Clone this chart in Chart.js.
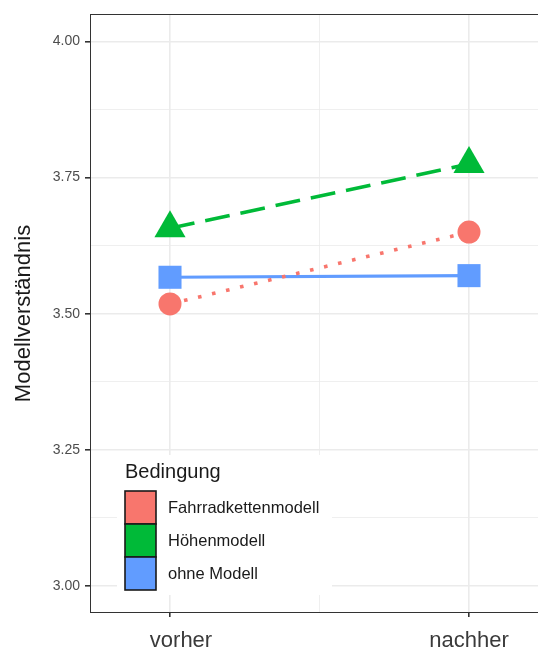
<!DOCTYPE html>
<html lang="de">
<head>
<meta charset="utf-8">
<title>Modellverständnis</title>
<script src="https://cdn.jsdelivr.net/npm/chart.js@4/dist/chart.umd.min.js"></script>
<style>
  html, body { margin: 0; padding: 0; background: #fff; overflow: hidden; }
  canvas { display: block; }
</style>
</head>
<body>
<canvas id="grafico" width="550" height="650"></canvas>
<script>
// Dados
const zeitpunkte = ['vorher', 'nachher'];
const bedingungen = ['Fahrradkettenmodell', 'Höhenmodell', 'ohne Modell'];
const fahrradWerte = [3.518, 3.650];
const hoehenWerte = [3.657, 3.775];
const ohneWerte = [3.567, 3.570];
const yTicks = [3.00, 3.25, 3.50, 3.75, 4.00];

// Cores no estilo ggplot
const cores = ['#F8766D', '#00BA38', '#619CFF'];
const fonte = "'Liberation Sans', Arial, Helvetica, sans-serif";

// Pontos x = 1, 2 para as categorias
function pontos(valores) {
    return valores.map((v, i) => ({ x: i + 1, y: v }));
}

// Ticks com linhas menores no meio
const yGrade = [];
for (let i = 0; i < yTicks.length; i++) {
    yGrade.push(yTicks[i]);
    if (i < yTicks.length - 1) yGrade.push((yTicks[i] + yTicks[i + 1]) / 2);
}
const ehMaior = v => yTicks.some(t => Math.abs(t - v) < 1e-6);

// Zerar o padding automático das escalas
function semPadding(scale) {
    scale.paddingLeft = 0;
    scale.paddingRight = 0;
    scale.paddingTop = 0;
    scale.paddingBottom = 0;
}

// Plugin para borda do painel e legenda interna
const painelLegenda = {
    id: 'painelLegenda',
    afterDraw(chart) {
        const ctx = chart.ctx;
        const a = chart.chartArea;
        ctx.save();
        // borda do painel
        ctx.strokeStyle = '#333333';
        ctx.lineWidth = 1;
        ctx.strokeRect(a.left + 0.5, a.top + 0.5, a.right - a.left, a.bottom - a.top - 1);

        // legenda
        const lx = a.left + 27, ly = a.bottom - 158;
        ctx.fillStyle = '#ffffff';
        ctx.fillRect(lx, ly, 215, 140);
        ctx.fillStyle = '#1a1a1a';
        ctx.textBaseline = 'middle';
        ctx.textAlign = 'left';
        ctx.font = '20px ' + fonte;
        ctx.fillText('Bedingung', lx + 8, ly + 17);
        ctx.font = '16.5px ' + fonte;
        chart.data.datasets.forEach((ds, i) => {
            const ky = ly + 36 + i * 33;
            ctx.fillStyle = ds.backgroundColor;
            ctx.fillRect(lx + 8, ky, 31, 33);
            ctx.strokeStyle = '#1a1a1a';
            ctx.lineWidth = 1.6;
            ctx.strokeRect(lx + 8, ky, 31, 33);
            ctx.fillStyle = '#1a1a1a';
            ctx.fillText(ds.label, lx + 51, ky + 17);
        });
        ctx.restore();
    }
};

new Chart(document.getElementById('grafico').getContext('2d'), {
    type: 'line',
    data: {
        datasets: [
            {
                label: bedingungen[0],
                data: pontos(fahrradWerte),
                borderColor: cores[0],
                backgroundColor: cores[0],
                borderWidth: 3.6,
                borderDash: [3.6, 10.8],
                pointStyle: 'circle',
                pointRadius: 11.5,
                pointBorderWidth: 0
            },
            {
                label: bedingungen[1],
                data: pontos(hoehenWerte),
                borderColor: cores[1],
                backgroundColor: cores[1],
                borderWidth: 3.6,
                borderDash: [25, 11],
                pointStyle: 'triangle',
                pointRadius: 18,
                pointBorderWidth: 0
            },
            {
                label: bedingungen[2],
                data: pontos(ohneWerte),
                borderColor: cores[2],
                backgroundColor: cores[2],
                borderWidth: 3.2,
                pointStyle: 'rect',
                pointRadius: 16.3,
                pointBorderWidth: 0
            }
        ]
    },
    options: {
        responsive: false,
        animation: false,
        devicePixelRatio: 1,
        layout: { autoPadding: false, padding: { top: 14, right: 1, left: 0, bottom: 0 } },
        plugins: {
            legend: { display: false },
            tooltip: { enabled: false }
        },
        scales: {
            x: {
                type: 'linear',
                min: 1 - 80 / 299,
                max: 2 + 80 / 299,
                afterBuildTicks: scale => {
                    scale.ticks = [1, 1.5, 2].map(v => ({ value: v }));
                },
                afterFit: scale => { scale.height = 37; semPadding(scale); },
                border: { display: false },
                grid: {
                    color: '#EBEBEB',
                    lineWidth: c => (c.tick && c.tick.value === 1.5 ? 0.8 : 1.6),
                    tickColor: c => (c.tick && c.tick.value === 1.5 ? 'rgba(0,0,0,0)' : '#333333'),
                    tickLength: 4
                },
                ticks: {
                    autoSkip: false,
                    maxRotation: 0,
                    padding: 11,
                    color: '#3a3a3a',
                    font: { family: fonte, size: 22 },
                    // no original o rótulo "vorher" fica um pouco à direita
                    callback: v => (v === 1 ? '\u2002\u2002' + zeitpunkte[0] : v === 2 ? zeitpunkte[1] : '')
                }
            },
            y: {
                type: 'linear',
                min: 3.00 - 27 / 544,
                max: 4.00 + 27.5 / 544,
                afterBuildTicks: scale => {
                    scale.ticks = yGrade.map(v => ({ value: v }));
                },
                afterFit: scale => { scale.width = 90; semPadding(scale); },
                border: { display: false },
                grid: {
                    color: '#EBEBEB',
                    lineWidth: c => (c.tick && ehMaior(c.tick.value) ? 1.6 : 0.8),
                    tickColor: c => (c.tick && ehMaior(c.tick.value) ? '#333333' : 'rgba(0,0,0,0)'),
                    tickLength: 5
                },
                ticks: {
                    autoSkip: false,
                    padding: 5,
                    color: '#4d4d4d',
                    font: { family: fonte, size: 14 },
                    callback: v => (ehMaior(v) ? v.toFixed(2) : '')
                },
                title: {
                    display: true,
                    text: 'Modellverständnis',
                    color: '#1a1a1a',
                    font: { family: fonte, size: 22 },
                    padding: { top: 11, bottom: 0 }
                }
            }
        }
    },
    plugins: [painelLegenda]
});
</script>
</body>
</html>
